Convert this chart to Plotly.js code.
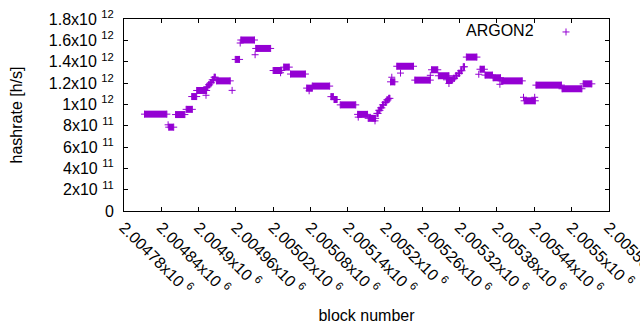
<!DOCTYPE html>
<html><head><meta charset="utf-8">
<script src="https://cdn.plot.ly/plotly-3.0.1.min.js"></script>
<style>html,body{margin:0;padding:0;background:#fff}</style>
</head><body><div id="chart" style="width:640px;height:330px"></div>
<script>
// runs of (nearly) constant hashrate: first block, last block, value [h/s]
const segStart = [2004813, 2004852, 2004863, 2004880, 2004889, 2004897, 2004929, 2004959, 2004968, 2004992,
  2005020, 2005037, 2005048, 2005074, 2005083, 2005113, 2005118, 2005128, 2005156, 2005173,
  2005209, 2005219, 2005248, 2005275, 2005286, 2005299, 2005331, 2005353, 2005361, 2005374,
  2005387, 2005424, 2005443, 2005485, 2005519,
  2004913, 2004916, 2004919, 2004922, 2004925,
  2005187, 2005190, 2005193, 2005196, 2005200, 2005203, 2005206,
  2005310, 2005314, 2005318, 2005322, 2005326];
const segEnd = [2004849, 2004860, 2004878, 2004890, 2004897, 2004913, 2004951, 2004966, 2004990, 2005016,
  2005034, 2005046, 2005072, 2005083, 2005111, 2005117, 2005123, 2005153, 2005172, 2005185,
  2005216, 2005246, 2005273, 2005285, 2005303, 2005309, 2005348, 2005360, 2005373, 2005386,
  2005421, 2005442, 2005484, 2005517, 2005533,
  2004915, 2004918, 2004921, 2004924, 2004927,
  2005189, 2005192, 2005195, 2005198, 2005202, 2005205, 2005208,
  2005312, 2005316, 2005320, 2005324, 2005328];
const segValue = [0.908e12, 0.786e12, 0.904e12, 0.953e12, 1.073e12, 1.13e12, 1.22e12, 1.421e12, 1.603e12, 1.524e12,
  1.317e12, 1.349e12, 1.284e12, 1.152e12, 1.171e12, 1.072e12, 1.045e12, 0.995e12, 0.906e12, 0.869e12,
  1.211e12, 1.357e12, 1.227e12, 1.324e12, 1.268e12, 1.23e12, 1.443e12, 1.329e12, 1.274e12, 1.249e12,
  1.22e12, 1.033e12, 1.18e12, 1.146e12, 1.192e12,
  1.164e12, 1.183e12, 1.202e12, 1.23e12, 1.254e12,
  0.915e12, 0.944e12, 0.967e12, 0.995e12, 1.019e12, 1.042e12, 1.056e12,
  1.244e12, 1.268e12, 1.291e12, 1.315e12, 1.352e12];
// single blocks off the runs
const ptBlock = [2004851, 2004912, 2004954, 2004967, 2004991,
  2005032, 2005078, 2005157, 2005184, 2005211, 2005225, 2005273, 2005303,
  2005351, 2005385, 2005423, 2005441];
const ptValue = [0.808e12, 1.085e12, 1.131e12, 1.575e12, 1.465e12,
  1.296e12, 1.127e12, 0.88e12, 0.845e12, 1.254e12, 1.293e12, 1.272e12, 1.195e12,
  1.282e12, 1.188e12, 1.066e12, 1.066e12];

const xTickVals = [2004780, 2004840, 2004900, 2004960, 2005020, 2005080, 2005140, 2005200, 2005260, 2005320, 2005380, 2005440, 2005500, 2005560];
const xTickLabels = ['2.00478', '2.00484', '2.0049', '2.00496', '2.00502', '2.00508', '2.00514', '2.0052', '2.00526', '2.00532', '2.00538', '2.00544', '2.0055', '2.00556'];
const yTickVals = [0, 2e11, 4e11, 6e11, 8e11, 1e12, 1.2e12, 1.4e12, 1.6e12, 1.8e12];
const yTickMant = ['0', '2', '4', '6', '8', '1', '1.2', '1.4', '1.6', '1.8'];
const yTickExp = ['', '11', '11', '11', '11', '12', '12', '12', '12', '12'];

const purple = '#9400d3';
const font = {family: 'Liberation Sans, Arial, sans-serif', size: 16, color: '#000'};

const lx = [], ly = [];
for (let i = 0; i < segStart.length; i++) {
  lx.push(segStart[i], segEnd[i], null);
  ly.push(segValue[i], segValue[i], null);
}
const mx = ptBlock.concat(segStart, segEnd);
const my = ptValue.concat(segValue, segValue);

const traces = [
  {x: lx, y: ly, type: 'scatter', mode: 'lines', line: {color: purple, width: 7}, showlegend: false, hoverinfo: 'skip'},
  {x: mx, y: my, type: 'scatter', mode: 'markers', name: ' ',
   marker: {symbol: 'cross-thin-open', size: 5, color: purple, line: {width: 1, color: purple}}}
];

const layout = {
  width: 640, height: 330,
  margin: {l: 124, r: 31, t: 19, b: 119},
  paper_bgcolor: '#fff', plot_bgcolor: '#fff',
  font: font,
  showlegend: true,
  legend: {x: 0.701, y: 0.932, xanchor: 'left', yanchor: 'middle', bgcolor: 'rgba(0,0,0,0)',
    title: {text: 'ARGON2\u00a0', side: 'left', font: font}, font: font},
  xaxis: {
    range: [2004780, 2005560.6], tickmode: 'array', tickvals: xTickVals,
    ticktext: xTickLabels.map(s => s + 'x10 <sup>6</sup>'),
    tickangle: 45, ticks: 'inside', ticklen: 4, tickcolor: '#000',
    ticklabeloverflow: 'allow',
    showline: true, linecolor: '#000', linewidth: 1, mirror: 'ticks',
    showgrid: false, zeroline: false, tickfont: font,
    title: {text: 'block number', font: font, standoff: 13}
  },
  yaxis: {
    range: [0, 1.8e12], tickmode: 'array', tickvals: yTickVals,
    ticktext: yTickMant.map((m, i) => yTickExp[i] ? m + 'x10 <sup>' + yTickExp[i] + '</sup>' : m),
    ticks: 'inside', ticklen: 4, tickcolor: '#000',
    showline: true, linecolor: '#000', linewidth: 1, mirror: 'ticks',
    showgrid: false, zeroline: false, tickfont: font, ticklabelstandoff: 6,
    title: {text: 'hashrate [h/s]', font: font, standoff: 22}
  }
};
Plotly.newPlot('chart', traces, layout, {displayModeBar: false, staticPlot: true});
</script></body></html>
